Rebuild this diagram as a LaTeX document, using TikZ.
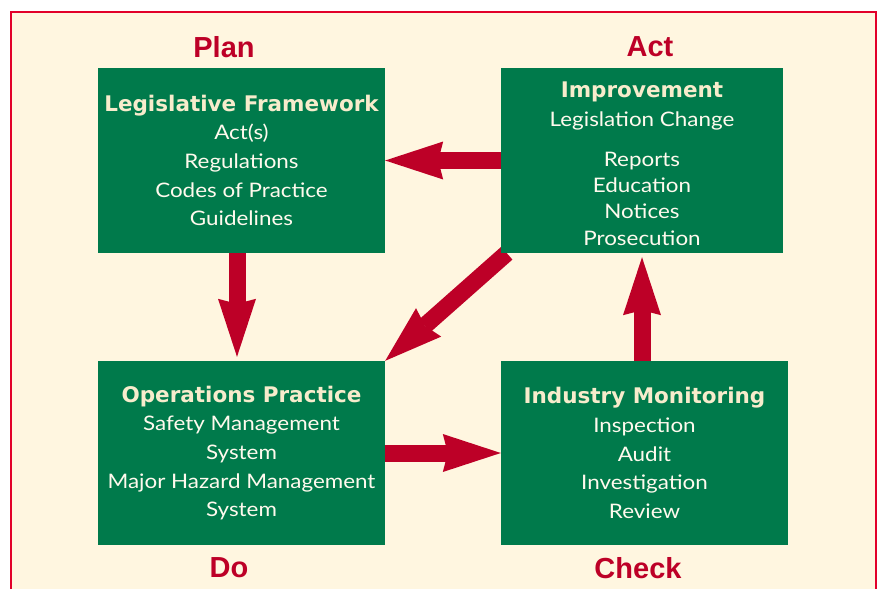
\documentclass[tikz,border=0pt]{standalone}
\usepackage{fontspec}
\setmainfont[FakeStretch=1.12]{Lato}
\newfontfamily\titlefont{DejaVu Sans}
\newfontfamily\phasefont{Liberation Sans}
\usetikzlibrary{arrows.meta, positioning}
\definecolor{boxgreen}{RGB}{0,122,75}
\definecolor{paper}{RGB}{255,246,224}
\definecolor{framered}{RGB}{226,0,42}
\definecolor{arrowred}{RGB}{189,0,39}
\definecolor{titlecream}{RGB}{247,236,204}
\definecolor{textcream}{RGB}{255,250,238}
\pgfdeclarelayer{paperlayer}
\pgfdeclarelayer{behind}
\pgfsetlayers{paperlayer,behind,main}
\newcommand{\boxtitle}[1]{{\color{titlecream}\titlefont\bfseries\fontsize{21.5}{28.7}\selectfont #1}}

\begin{document}
\begin{tikzpicture}[
  x=1pt, y=-1pt,
  box/.style={fill=boxgreen, draw=none, inner sep=0pt, align=center,
    text=textcream, font=\fontsize{20}{28.7}\selectfont},
  phase/.style={text=arrowred, font=\phasefont\bfseries\fontsize{29}{32}\selectfont},
  bigarrow/.style={draw=arrowred, line width=17pt,
    -{Stealth[length=58pt,width=38pt,inset=5pt,line width=0pt]}}] % sizes are in pixels of the page

  \useasboundingbox (0,0) rectangle (877,589);
  \begin{pgfonlayer}{paperlayer}
    \fill[paper] (11,12) rectangle (876,589);
    \draw[framered, line width=2pt] (11,589) -- (11,12) -- (876,12) -- (876,589);
  \end{pgfonlayer}

  \node[box, minimum width=287pt, minimum height=185pt] (leg) at (241.5,160.5)
    {\boxtitle{Legislative Framework}\\ Act(s)\\ Regulations\\
     Codes of Practice\\ Guidelines};
  \node[box, minimum width=282pt, minimum height=185pt] (imp) at (642,160.5)
    {\boxtitle{Improvement}\rule{0pt}{22pt}\\ Legislation Change\\[11pt] Reports\\[-2.4pt]
     Education\\[-2.4pt] Notices\\[-2.4pt] Prosecution};
  \node[box, minimum width=287pt, minimum height=184pt] (ops) at (241.5,453)
    {\boxtitle{Operations Practice}\\ Safety Management\\ System\\
     Major Hazard Management\\ System};
  \node[box, minimum width=287pt, minimum height=184pt] (mon) at (644.5,453)
    {\boxtitle{Industry Monitoring}\\ Inspection\\ Audit\\
     Investigation\\ Review};

  \node[phase] (plan) at (224,47) {Plan};
  \node[phase] (act) at (650,47) {Act};
  \node[phase] (do) at (229,568) {Do};
  \node[phase] (check) at (638,568) {Check};

  \begin{pgfonlayer}{behind}
    \draw[bigarrow] (imp.west) -- (leg.east);
    \draw[bigarrow, shorten >=4pt] ([xshift=-4.5pt]leg.south) -- ([xshift=-4.5pt]ops.north);
    \draw[bigarrow] ([xshift=6pt]imp.south west) -- (ops.north east);
    \draw[bigarrow] (ops.east) -- (mon.west);
    \draw[bigarrow, shorten >=4pt] (mon.north -| imp.south) -- (imp.south);
  \end{pgfonlayer}
\end{tikzpicture}
\end{document}
